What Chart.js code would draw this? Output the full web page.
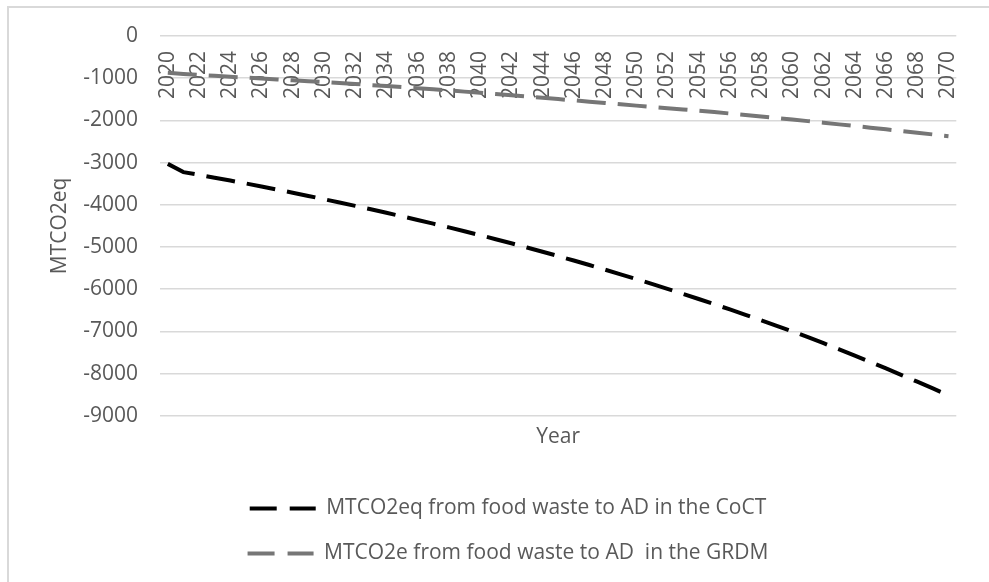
<!DOCTYPE html>
<html>
<head>
<meta charset="utf-8">
<script src="https://cdn.jsdelivr.net/npm/chart.js@4.4.1/dist/chart.umd.min.js"></script>
<style>
  html, body { margin: 0; padding: 0; background: #fff; }
  #frame { position: absolute; left: 7px; top: 6px; width: 1200px; height: 800px;
           border-left: 2px solid #d9d9d9; border-top: 2px solid #d9d9d9; }
  #chart { position: absolute; left: 0; top: 0; }
</style>
</head>
<body>
<div id="frame"></div>
<canvas id="chart" width="989" height="582"></canvas>
<script>
const years = [
  2020, 2021, 2022, 2023, 2024, 2025, 2026, 2027, 2028, 2029,
  2030, 2031, 2032, 2033, 2034, 2035, 2036, 2037, 2038, 2039,
  2040, 2041, 2042, 2043, 2044, 2045, 2046, 2047, 2048, 2049,
  2050, 2051, 2052, 2053, 2054, 2055, 2056, 2057, 2058, 2059,
  2060, 2061, 2062, 2063, 2064, 2065, 2066, 2067, 2068, 2069,
  2070
];

// CoCT, MTCO2eq
const cocT = [
  -3030, -3225, -3290, -3357, -3425, -3495, -3567, -3640, -3714, -3790,
  -3867, -3945, -4025, -4106, -4189, -4273, -4359, -4447, -4536, -4627,
  -4720, -4815, -4912, -5011, -5112, -5215, -5320, -5427, -5536, -5647,
  -5760, -5875, -5992, -6111, -6232, -6355, -6480, -6607, -6736, -6867,
  -7000, -7138, -7280, -7425, -7573, -7724, -7878, -8034, -8192, -8352,
  -8514
];

// GRDM, MTCO2e
const grdm = [
  -870, -898, -922, -944, -965, -986, -1007, -1028, -1050, -1071,
  -1093, -1115, -1138, -1162, -1186, -1211, -1237, -1263, -1290, -1318,
  -1347, -1376, -1405, -1435, -1465, -1495, -1525, -1556, -1587, -1619,
  -1650, -1680, -1710, -1740, -1771, -1803, -1837, -1871, -1906, -1942,
  -1979, -2017, -2055, -2094, -2133, -2172, -2212, -2252, -2292, -2333,
  -2374
];

const seriesNames = [
  "MTCO2eq from food waste to AD in the CoCT",
  "MTCO2e from food waste to AD  in the GRDM"
];

const yMin = -9000;
const yMax = 0;
const yStep = 1000;

const textColor = "#595959";
const gridColor = "#d9d9d9";
const fontFamily = "'Open Sans', sans-serif";

new Chart(document.getElementById("chart").getContext("2d"), {
  type: "line",
  data: {
    labels: years,
    datasets: [
      {
        label: seriesNames[0],
        data: cocT,
        borderColor: "#000000",
        backgroundColor: "#000000",
        borderWidth: 4,
        borderDash: [29, 12],
        pointRadius: 0,
        tension: 0,
        fill: false,
      },
      {
        label: seriesNames[1],
        data: grdm,
        borderColor: "#767676",
        backgroundColor: "#767676",
        borderWidth: 4,
        borderDash: [29, 12],
        pointRadius: 0,
        tension: 0,
        fill: false,
      },
    ],
  },
  options: {
    responsive: false,
    animation: false,
    devicePixelRatio: 1,
    layout: { padding: { left: 46, right: 19, top: 36, bottom: 8 } },
    plugins: {
      tooltip: { enabled: false },
      title: {
        display: true,
        text: "Year",
        position: "bottom",
        fullSize: false,
        weight: 500,
        color: textColor,
        font: { family: fontFamily, size: 21, weight: "normal" },
        padding: { top: 9, bottom: 24 },
      },
      legend: {
        position: "bottom",
        labels: {
          color: textColor,
          font: { family: fontFamily, size: 21 },
          usePointStyle: true,
          pointStyle: "line",
          pointStyleWidth: 66,
          padding: 24,
          generateLabels: (chart) =>
            Chart.defaults.plugins.legend.labels.generateLabels(chart)
              .map((l) => ({ ...l, lineDash: [27, 13] })),
        },
      },
    },
    scales: {
      x: {
        type: "category",
        position: { y: 0 },
        offset: true,
        grid: { display: false, drawTicks: false },
        border: { display: false },
        ticks: {
          autoSkip: false,
          minRotation: 90,
          maxRotation: 90,
          padding: 15,
          color: textColor,
          font: { family: fontFamily, size: 21 },
          callback: function (v, i) { return i % 2 === 0 ? String(years[i]) : ""; },
        },
      },
      y: {
        min: yMin,
        max: yMax,
        afterFit: (s) => { s.width = 114; },
        grid: { color: gridColor, lineWidth: 1.5, drawTicks: false },
        border: { display: false },
        ticks: {
          stepSize: yStep,
          padding: 22,
          color: textColor,
          font: { family: fontFamily, size: 21 },
          callback: (v) => String(v),
        },
        title: {
          display: true,
          text: "MTCO2eq",
          color: textColor,
          font: { family: fontFamily, size: 21 },
          padding: { top: 1, bottom: 0 },
        },
      },
    },
  },
});
</script>
</body>
</html>
